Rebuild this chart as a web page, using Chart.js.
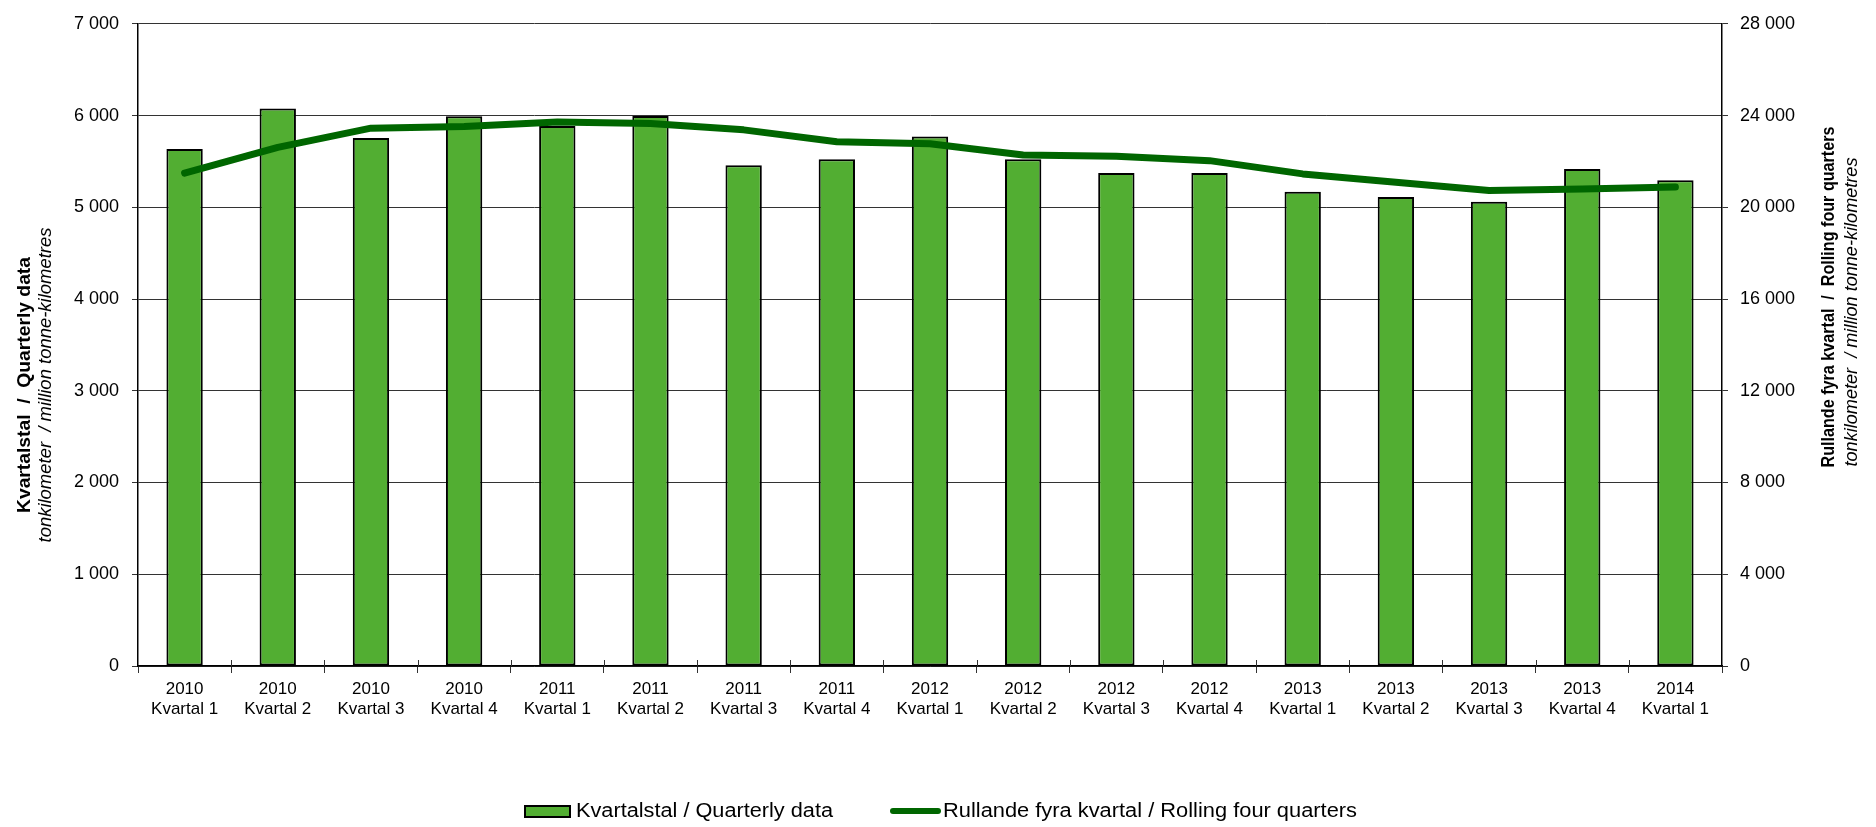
<!DOCTYPE html>
<html>
<head>
<meta charset="utf-8">
<script src="https://cdn.jsdelivr.net/npm/chart.js"></script>
<style>
  html, body { margin: 0; padding: 0; background: #fff; }
  #wrap { width: 1876px; height: 827px; }
</style>
</head>
<body>
<div id="wrap"><canvas id="chart" width="1876" height="827"></canvas></div>
<script>
const years = ['2010', '2010', '2010', '2010', '2011', '2011', '2011', '2011',
  '2012', '2012', '2012', '2012', '2013', '2013', '2013', '2013', '2014'];
const quarters = ['Kvartal 1', 'Kvartal 2', 'Kvartal 3', 'Kvartal 4', 'Kvartal 1', 'Kvartal 2', 'Kvartal 3', 'Kvartal 4',
  'Kvartal 1', 'Kvartal 2', 'Kvartal 3', 'Kvartal 4', 'Kvartal 1', 'Kvartal 2', 'Kvartal 3', 'Kvartal 4', 'Kvartal 1'];
// million tonne-kilometres per quarter
const quarterly = [5635, 6076, 5754, 5992, 5887, 5996, 5458, 5523,
  5772, 5523, 5375, 5375, 5169, 5112, 5061, 5418, 5296];
// rolling four quarters sum
const rolling = [21487, 22613, 23450, 23523, 23723, 23653, 23376, 22856,
  22770, 22280, 22223, 22033, 21456, 21096, 20732, 20793, 20880];

const leftTicks = [0, 1000, 2000, 3000, 4000, 5000, 6000, 7000];
const rightTicks = [0, 4000, 8000, 12000, 16000, 20000, 24000, 28000];

const FONT = '"Liberation Sans", Arial, sans-serif';
const labels = years.map((y, i) => [y, quarters[i]]);

const BAR_GREEN = '#52AE32';
const LINE_GREEN = '#006600';

function fmt(v) {
  return String(v).replace(/\B(?=(\d{3})+(?!\d))/g, ' ');
}

// text squeezed/stretched to a given length, the original font is a bit different
function fitText(ctx, txt, x, y, font, len, rotate) {
  ctx.save();
  ctx.font = font;
  const w = ctx.measureText(txt).width;
  ctx.translate(x, y);
  if (rotate) ctx.rotate(-Math.PI / 2);
  ctx.scale(len / w, 1);
  ctx.fillStyle = '#000';
  ctx.textAlign = rotate ? 'center' : 'left';
  ctx.textBaseline = 'middle';
  ctx.fillText(txt, 0, 0);
  ctx.restore();
}

// axis titles, legend and the little crossing ticks on the x axis
const extras = {
  id: 'extras',
  afterDraw(chart) {
    const ctx = chart.ctx;
    fitText(ctx, 'Kvartalstal  /  Quarterly data', 25, 385, 'bold 18px ' + FONT, 256, true);
    fitText(ctx, 'tonkilometer  / million tonne-kilometres', 46, 385, 'italic 18px ' + FONT, 315, true);
    fitText(ctx, 'Rullande fyra kvartal  /  Rolling four quarters', 1829, 297, 'bold 18px ' + FONT, 341, true);
    fitText(ctx, 'tonkilometer  / million tonne-kilometres', 1852, 312, 'italic 18px ' + FONT, 309, true);

    // x ticks reaching up into the plot a bit
    const xs = chart.scales.x;
    const n = chart.data.labels.length;
    const step = (xs.right - xs.left) / n;
    ctx.save();
    ctx.strokeStyle = '#333';
    ctx.lineWidth = 1;
    for (let i = 1; i < n; i++) {
      const px = Math.round(xs.left + i * step) + 0.5;
      ctx.beginPath();
      ctx.moveTo(px, xs.top - 6);
      ctx.lineTo(px, xs.top);
      ctx.stroke();
    }
    ctx.restore();

    // legend
    const ly = 811;
    ctx.save();
    ctx.fillStyle = BAR_GREEN;
    ctx.strokeStyle = '#000';
    ctx.lineWidth = 2;
    ctx.fillRect(525, ly - 5, 45, 11);
    ctx.strokeRect(525, ly - 5, 45, 11);
    ctx.strokeStyle = LINE_GREEN;
    ctx.lineWidth = 6;
    ctx.lineCap = 'round';
    ctx.beginPath();
    ctx.moveTo(893, ly);
    ctx.lineTo(938, ly);
    ctx.stroke();
    ctx.restore();
    fitText(ctx, chart.data.datasets[0].label, 576, ly, '20px ' + FONT, 257, false);
    fitText(ctx, chart.data.datasets[1].label, 943, ly, '20px ' + FONT, 414, false);
  }
};

const ctx = document.getElementById('chart').getContext('2d');
new Chart(ctx, {
  type: 'bar',
  data: {
    labels: labels,
    datasets: [{
      type: 'bar',
      label: 'Kvartalstal / Quarterly data',
      data: quarterly,
      backgroundColor: BAR_GREEN,
      borderColor: '#000',
      borderWidth: 2,
      borderSkipped: false,
      barPercentage: 0.39,
      categoryPercentage: 1,
      yAxisID: 'y',
      order: 2
    }, {
      type: 'line',
      label: 'Rullande fyra kvartal / Rolling four quarters',
      data: rolling,
      borderColor: LINE_GREEN,
      backgroundColor: LINE_GREEN,
      borderWidth: 7,
      borderCapStyle: 'round',
      borderJoinStyle: 'round',
      pointRadius: 0,
      tension: 0,
      fill: false,
      yAxisID: 'y1',
      order: 1
    }]
  },
  options: {
    responsive: false,
    animation: false,
    devicePixelRatio: 1,
    layout: { padding: { top: 20, left: 0, right: 0, bottom: 0 } },
    plugins: {
      tooltip: { enabled: false },
      legend: { display: false }
    },
    scales: {
      x: {
        offset: true,
        grid: {
          offset: true,
          drawOnChartArea: false,
          tickLength: 7,
          color: '#333'
        },
        border: { color: '#000', width: 1.5 },
        ticks: {
          autoSkip: false,
          maxRotation: 0,
          padding: 6,
          color: '#000',
          font: { family: FONT, size: 17 }
        },
        afterFit(scale) { scale.height = 161; }
      },
      y: {
        position: 'left',
        min: 0,
        max: 7000,
        afterBuildTicks(scale) { scale.ticks = leftTicks.map(v => ({ value: v })); },
        grid: { color: '#333', lineWidth: 1, tickLength: 6 },
        border: { color: '#000', width: 1.5 },
        ticks: {
          padding: 13,
          color: '#000',
          font: { family: FONT, size: 18 },
          callback: v => fmt(v)
        },
        afterFit(scale) { scale.width = 138; }
      },
      y1: {
        position: 'right',
        min: 0,
        max: 28000,
        afterBuildTicks(scale) { scale.ticks = rightTicks.map(v => ({ value: v })); },
        grid: { drawOnChartArea: false, color: '#333', tickLength: 6 },
        border: { color: '#000', width: 1.5 },
        ticks: {
          padding: 12,
          color: '#000',
          font: { family: FONT, size: 18 },
          callback: v => fmt(v)
        },
        afterFit(scale) { scale.width = 154; }
      }
    }
  },
  plugins: [extras]
});
</script>
</body>
</html>
